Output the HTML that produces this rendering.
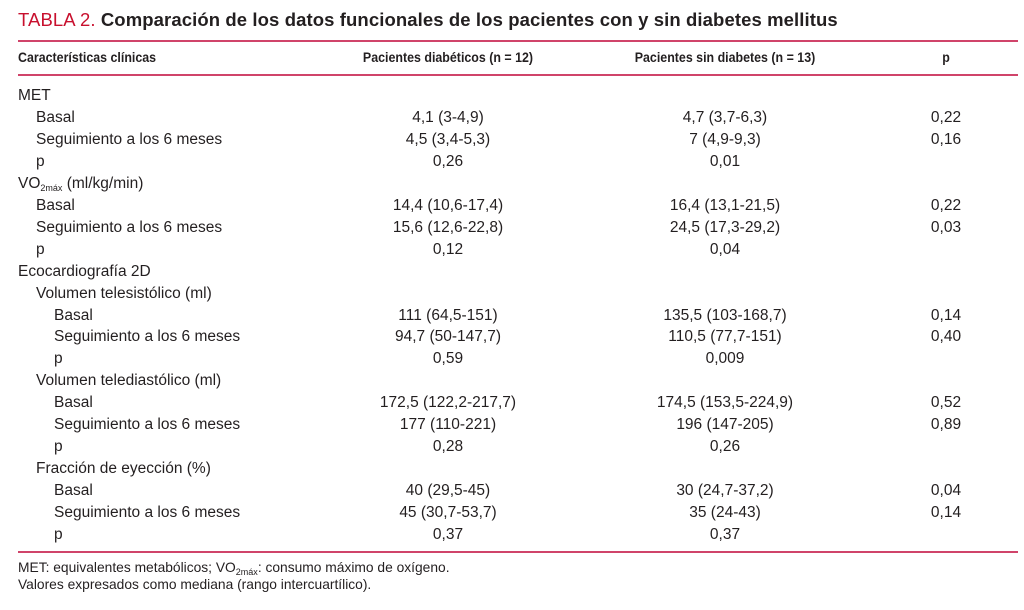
<!DOCTYPE html>
<html><head><meta charset="utf-8"><style>
body{margin:0;width:1024px;height:610px;background:#fff;position:relative;overflow:hidden;font-family:"Liberation Sans Narrow","Liberation Sans",sans-serif;color:#231f20}
.t{position:absolute;white-space:nowrap;font-size:15.5px;line-height:18px}
.c{transform:translateX(-50%)}
.h{font-weight:bold;font-size:13.5px;transform-origin:0 50%;transform:scaleX(.92)}
.h.c{transform-origin:50% 50%;transform:translateX(-50%) scaleX(.92)}
.line{position:absolute;left:18px;width:1000px;height:1.5px;background:#d0446a}
sub{font-size:9px;vertical-align:-3px;line-height:0}
#title{position:absolute;left:18px;top:9px;font-family:"Liberation Sans",sans-serif;font-size:18.5px;font-weight:bold;white-space:nowrap;letter-spacing:0.1px}
#title span{color:#c8102e;font-weight:normal}
</style></head><body>
<div id="title"><span>TABLA 2.</span> Comparación de los datos funcionales de los pacientes con y sin diabetes mellitus</div>
<div class="line" style="top:40px"></div>
<div class="line" style="top:74px"></div>
<div class="line" style="top:551px"></div>
<div class="t h" style="left:18px;top:49px">Características clínicas</div>
<div class="t h c" style="left:448px;top:49px">Pacientes diabéticos (n = 12)</div>
<div class="t h c" style="left:725px;top:49px">Pacientes sin diabetes (n = 13)</div>
<div class="t h c" style="left:946px;top:49px">p</div>
<div id="rows"></div>
<div class="t" style="left:18px;top:559px;font-size:13.8px;line-height:17px">MET: equivalentes metabólicos; VO<sub>2máx</sub>: consumo máximo de oxígeno.<br>Valores expresados como mediana (rango intercuartílico).</div>
<script>
const labels=[[0,"MET"],[1,"Basal"],[1,"Seguimiento a los 6 meses"],[1,"p"],[0,"VO<sub>2máx</sub> (ml/kg/min)"],[1,"Basal"],[1,"Seguimiento a los 6 meses"],[1,"p"],[0,"Ecocardiografía 2D"],[1,"Volumen telesistólico (ml)"],[2,"Basal"],[2,"Seguimiento a los 6 meses"],[2,"p"],[1,"Volumen telediastólico (ml)"],[2,"Basal"],[2,"Seguimiento a los 6 meses"],[2,"p"],[1,"Fracción de eyección (%)"],[2,"Basal"],[2,"Seguimiento a los 6 meses"],[2,"p"]];
const colA=["","4,1 (3-4,9)","4,5 (3,4-5,3)","0,26","","14,4 (10,6-17,4)","15,6 (12,6-22,8)","0,12","","","111 (64,5-151)","94,7 (50-147,7)","0,59","","172,5 (122,2-217,7)","177 (110-221)","0,28","","40 (29,5-45)","45 (30,7-53,7)","0,37"];
const colB=["","4,7 (3,7-6,3)","7 (4,9-9,3)","0,01","","16,4 (13,1-21,5)","24,5 (17,3-29,2)","0,04","","","135,5 (103-168,7)","110,5 (77,7-151)","0,009","","174,5 (153,5-224,9)","196 (147-205)","0,26","","30 (24,7-37,2)","35 (24-43)","0,37"];
const colP=["","0,22","0,16","","","0,22","0,03","","","","0,14","0,40","","","0,52","0,89","","","0,04","0,14",""];
const R=document.getElementById('rows');
labels.forEach((l,i)=>{
  const top=87+i*21.95;
  const mk=(html,left,center,name)=>{if(!html)return;const d=document.createElement('div');d.className='t'+(center?' c':'');d.style.left=left+'px';d.style.top=top+'px';d.innerHTML=html;
    
    
    R.appendChild(d);};
  mk(l[1],18+l[0]*18,false,'row-label');
  mk(colA[i],448,true,'diabeticos-value');
  mk(colB[i],725,true,'sin-diabetes-value');
  mk(colP[i],946,true,'p-value');
});
</script>
</body></html>
